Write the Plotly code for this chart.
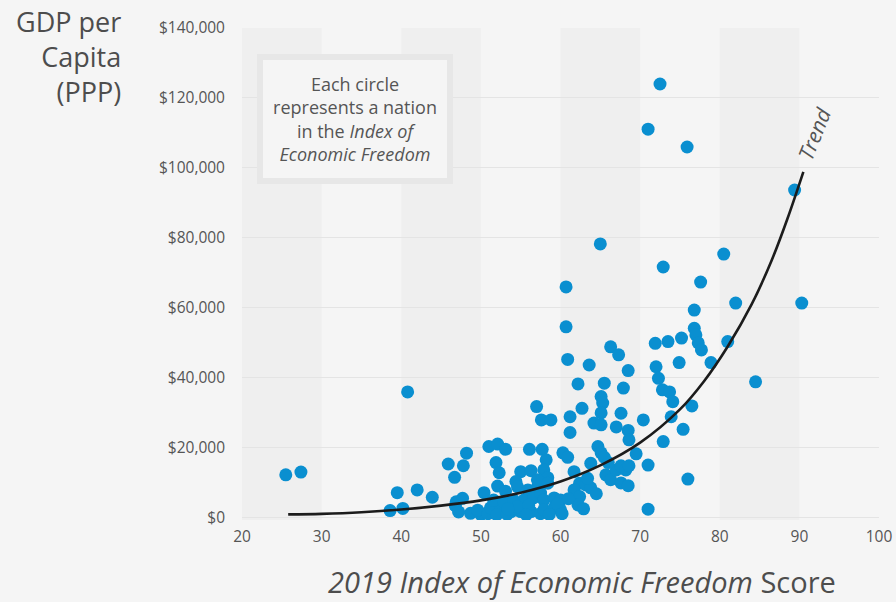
import plotly.graph_objects as go

# ---- data ----
freedom_score = [
    25.5, 27.4, 40.8,
    38.6, 39.5, 40.2, 42.0, 43.9,
    45.9, 48.2, 47.8, 46.7,
    46.9, 47.7, 46.8, 47.2, 48.7, 50.0, 49.6, 50.9,
    51.0, 52.1, 53.1, 51.9, 52.3,
    56.1, 57.7, 58.2, 57.9, 58.4,
    55.0, 56.3, 54.4, 52.1, 50.4, 53.1,
    57.1, 54.6, 55.9, 57.1, 58.4,
    51.2, 52.5, 53.8, 55.0, 56.3, 57.5,
    51.6, 52.9, 54.1, 55.4, 56.6, 57.5,
    57.9, 57.9, 59.2, 59.2, 60.0, 60.0,
    52.0, 53.3, 54.6, 56.0, 58.6, 59.6, 60.2, 53.4, 55.7,
    57.0, 57.6, 58.8,
    60.7, 60.7, 60.9, 62.2, 61.2, 61.2,
    60.3, 60.9, 61.7, 62.4, 63.2, 63.8,
    61.7, 62.4, 62.2, 63.4, 63.8, 61.0, 62.9,
    63.6, 62.7, 65.1, 65.3, 65.1, 64.2, 65.1,
    64.7, 65.1, 65.5, 65.5, 65.0, 66.3, 67.3,
    65.7, 66.3, 67.0, 67.6, 68.2, 68.6, 69.5,
    67.6, 68.5, 67.9, 68.5, 67.6, 67.0, 68.5, 68.6, 70.4,
    64.5, 66.0,
    72.5, 71.0, 75.9, 72.9, 77.6, 76.8,
    71.9, 73.5, 75.2, 76.8, 77.0, 77.3, 77.7,
    72.0, 72.3, 74.9, 78.9, 72.8, 73.7, 74.1,
    76.5, 73.9, 75.4, 72.9, 71.0, 76.0, 71.0,
    80.5, 82.0, 81.0, 84.5, 89.4, 90.3,
]
gdp_per_capita = [
    12300, 13100, 36000,
    2100, 7200, 2700, 8000, 5900,
    15400, 18500, 14900, 11600,
    4600, 5600, 3500, 1700, 1300, 900, 2200, 1200,
    20400, 21100, 19600, 15800, 12900,
    19600, 19600, 16600, 13700, 11500,
    13200, 13500, 10400, 9100, 7200, 7600,
    8900, 8900, 8000, 10900, 9900,
    2900, 2300, 1800, 1800, 1800, 1200,
    5100, 4600, 5100, 5100, 5700, 7100,
    5100, 2300, 5700, 2900, 5100, 2300,
    900, 1000, 3200, 3600, 1000, 4000, 1200, 2600, 900,
    31800, 28000, 28000,
    66000, 54600, 45300, 38300, 28900, 24400,
    18600, 17300, 13200, 9900, 9400, 8600,
    8000, 6100, 3700, 11300, 15600, 5500, 2600,
    43700, 31300, 34700, 32800, 30000, 27100, 26600,
    20400, 18600, 17300, 38500, 78300, 48900, 46600,
    12300, 10900, 13700, 14900, 13700, 14900, 18300,
    10000, 9200, 37100, 42100, 29900, 26000, 25000, 22300, 28000,
    6900, 15800,
    124000, 111100, 106000, 71700, 67400, 59400,
    49900, 50400, 51400, 54200, 52300, 50000, 48000,
    43200, 39900, 44400, 44400, 36600, 36000, 33200,
    32000, 28900, 25300, 21800, 15100, 11100, 2500,
    75400, 61400, 50400, 38900, 93700, 61400,
]

# trend curve
trend_score = [25.8, 30, 35, 40, 45, 50, 55, 60, 65, 70, 75, 78, 81, 84, 86.5, 88.5, 90.5]
trend_gdp = [1000, 1150, 1600, 2400, 3500, 5000, 7200, 10400, 15000, 21500, 31000, 39000, 49000, 61000, 73500, 85500, 98900]

x_ticks = [20, 30, 40, 50, 60, 70, 80, 90, 100]
y_ticks = [0, 20000, 40000, 60000, 80000, 100000, 120000, 140000]
y_tick_labels = ["$0", "$20,000", "$40,000", "$60,000", "$80,000", "$100,000", "$120,000", "$140,000"]
shaded_bands = [(20, 30), (40, 50), (60, 70), (80, 90)]

TXT = "#555555"
FONT = "Open Sans"

fig = go.Figure()
fig.add_trace(go.Scatter(
    x=freedom_score, y=gdp_per_capita, mode="markers",
    marker=dict(size=13, color="#0a8fd0", line=dict(width=0)),
    hoverinfo="x+y", showlegend=False))
fig.add_trace(go.Scatter(
    x=trend_score, y=trend_gdp, mode="lines",
    line=dict(color="#1c1c1c", width=2.6, shape="spline", smoothing=1.0),
    showlegend=False, hoverinfo="skip"))

shapes = []
for a, b in shaded_bands:
    shapes.append(dict(type="rect", xref="x", yref="paper", x0=a, x1=b, y0=0, y1=1,
                       fillcolor="#efefef", line=dict(width=0), layer="below"))

annotations = [
    dict(text="GDP per<br>Capita<br>(PPP)", xref="paper", yref="paper", x=-0.187, y=0.942,
         xanchor="right", yanchor="middle", align="right", showarrow=False,
         font=dict(family=FONT, size=27, color="#4d4d4d")),
    dict(text="Each circle<br>represents a nation<br>in the <i>Index of</i><br><i>Economic Freedom</i>",
         xref="paper", yref="paper", x=0.1774, y=0.815, xanchor="center", yanchor="middle",
         align="center", showarrow=False, width=182, height=116, borderwidth=6, borderpad=1,
         bordercolor="#e7e7e7", bgcolor="#f5f5f5",
         font=dict(family=FONT, size=18, color=TXT)),
    dict(text="<i>2019 Index of Economic Freedom</i> Score", xref="paper", yref="paper",
         x=0.534, y=-0.126, xanchor="center", yanchor="middle", showarrow=False,
         font=dict(family=FONT, size=29, color="#4d4d4d")),
    dict(text="<i>Correlation: 0.64</i>", xref="x", yref="y", x=101.4, y=8600,
         xanchor="right", yanchor="middle", showarrow=False,
         font=dict(family=FONT, size=16, color=TXT)),
    dict(text="<i>Trend</i>", xref="x", yref="y", x=91.9, y=109600, textangle=-68,
         xanchor="center", yanchor="middle", showarrow=False,
         font=dict(family=FONT, size=21, color=TXT)),
]

fig.update_layout(
    width=896, height=602,
    margin=dict(l=242, r=17, t=28, b=82),
    paper_bgcolor="#f5f5f5", plot_bgcolor="#f5f5f5",
    shapes=shapes, annotations=annotations,
    xaxis=dict(range=[20, 100], tickvals=x_ticks, ticktext=[str(v) for v in x_ticks],
               showgrid=False, zeroline=False, showline=False, ticks="",
               automargin=False, ticklabelstandoff=5,
               tickfont=dict(family=FONT, size=15.5, color=TXT)),
    yaxis=dict(range=[-600, 140000], tickvals=y_ticks, ticktext=y_tick_labels,
               showgrid=True, gridcolor="#e4e4e4", gridwidth=1, zeroline=False,
               showline=False, ticks="", ticklabelstandoff=16, automargin=False,
               tickfont=dict(family=FONT, size=15.5, color=TXT)),
)

post = ("document.body.style.margin='0';document.body.style.padding='0';"
        "document.documentElement.style.overflow='hidden';"
        "document.body.style.background='#f5f5f5';")
fig.write_html("out.html", post_script=post, config={"displayModeBar": False})
